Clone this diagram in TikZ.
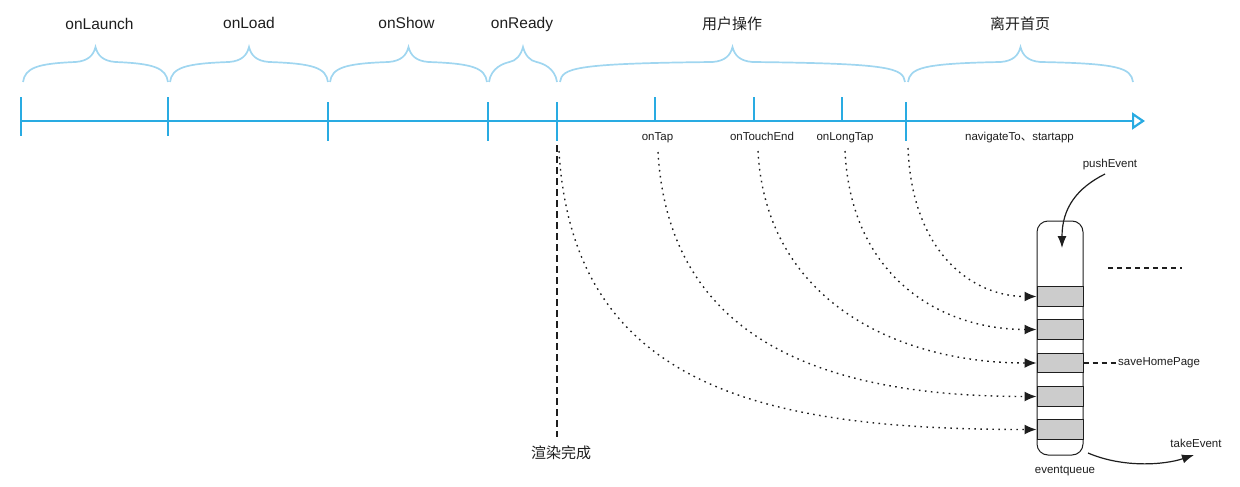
\documentclass[tikz,border=0pt]{standalone}
\usepackage{fontspec}
\setmainfont{Liberation Sans}
\newfontfamily\cjk{Noto Sans CJK SC}
\usetikzlibrary{arrows.meta,calc}
\definecolor{tlblue}{RGB}{41,171,226}
\definecolor{brblue}{RGB}{160,214,240}
\definecolor{ink}{RGB}{30,30,30}
\definecolor{slotgray}{RGB}{204,204,204}
\newcommand{\mybrace}[3]{%
  \pgfmathsetmacro\bm{(#1+#2)/2}%
  \pgfmathsetmacro\bo{min(20,0.2*(#2-#1))}%
  \draw[br] (#1,82) .. controls (#1+2,68) and (#1+14,63.5) .. (\bm-\bo,62)
    .. controls (\bm-7,61) and (\bm-2,55) .. (\bm,#3)
    .. controls (\bm+2,55) and (\bm+7,61) .. (\bm+\bo,62)
    .. controls (#2-14,63.5) and (#2-2,68) .. (#2,82);
}
\begin{document}
\begin{tikzpicture}[x=1pt,y=-1pt,
  tl/.style={draw=tlblue, line width=2.4pt},
  tickmark/.style={draw=tlblue, line width=2.2pt},
  br/.style={draw=brblue, line width=1.7pt},
  big/.style={font=\fontsize{15.5}{18}\selectfont, text=ink, anchor=base, inner sep=0pt},
  cjklab/.style={font=\fontsize{15}{18}\selectfont\cjk, text=ink, anchor=base, inner sep=0pt},
  small/.style={font=\fontsize{11.5}{14}\selectfont, text=ink, anchor=base, inner sep=0pt},
  flow/.style={draw=ink, line width=1.4pt, dash pattern=on 1.6pt off 4.4pt, -{Latex[length=12pt,width=10pt]}},
  solidarrow/.style={draw=ink, line width=1.2pt, -{Latex[length=12pt,width=9pt]}},
  slot/.style={draw=ink, line width=1pt, fill=slotgray, minimum width=46pt, minimum height=19.5pt, inner sep=0pt},
  sep/.style={draw=ink, line width=1pt},
  dsh/.style={draw=ink, line width=1.2pt, dash pattern=on 5pt off 4pt}
]
\useasboundingbox (0,0) rectangle (1240,487);

% braces
\mybrace{23}{168}{47}
\mybrace{170}{328}{47}
\mybrace{330}{487}{47}
\mybrace{489}{557}{47}
\mybrace{560}{905}{47}
\mybrace{908}{1133}{47}

% labels
\node[big] (lLaunch) at (99.5,30) {onLaunch};
\node[big] (lLoad) at (249,28.5) {onLoad};
\node[big] (lShow) at (406.5,28.5) {onShow};
\node[big] (lReady) at (522,28.5) {onReady};
\node[cjklab] (lUser) at (732,30) {用户操作};
\node[cjklab] (lLeave) at (1020,30) {离开首页};

% timeline
\coordinate (tstart) at (21,121);
\coordinate (tend) at (1145,121);
\draw[tl, -{Triangle[open,length=13pt,width=17pt,line width=2.2pt]}] (tstart) -- (tend);
\draw[tickmark] (21,97) -- (21,136);
\draw[tickmark] (168,97) -- (168,136);
\draw[tickmark] (328,102) -- (328,141);
\draw[tickmark] (488,102) -- (488,141);
\draw[tickmark] (557,102) -- (557,141);
\draw[tickmark] (655,97) -- (655,121);
\draw[tickmark] (754,97) -- (754,121);
\draw[tickmark] (842,97) -- (842,121);
\draw[tickmark] (906,102) -- (906,141);

% small labels
\node[small] (lTap) at (657.5,140) {onTap};
\node[small] (lTouch) at (762,140) {onTouchEnd};
\node[small] (lLong) at (845,140) {onLongTap};
\node[small] (lNav) at (1019.5,140) {navigateTo{\cjk 、}startapp};

% render done
\coordinate (rtop) at (557,145);
\node[cjklab] (lRender) at (561,458) {渲染完成};
\draw[dsh, dash pattern=on 7pt off 4pt] (rtop) -- (557,437);

% event queue
\node[draw=ink, line width=1pt, rounded corners=11pt, minimum width=46pt, minimum height=234pt, inner sep=0pt] (queue) at (1060,338) {};
\node[slot] (s1) at (1060,296.5) {};
\node[slot] (s2) at (1060,329.5) {};
\node[slot] (s3) at (1060,363) {};
\node[slot] (s4) at (1060,396.5) {};
\node[slot] (s5) at (1060,429.5) {};
\draw[sep] (s5.south west) -- (s5.south east);

% flow curves
\coordinate (cR) at (559,151);
\coordinate (cTap) at (658,152);
\coordinate (cTouch) at (758,151);
\coordinate (cLong) at (845,151);
\coordinate (cNav) at (908,148);
\draw[flow] (cR) .. controls +(14,237) and +(-272,0) .. (s5.west);
\draw[flow] (cTap) .. controls +(11,191) and +(-208,0) .. (s4.west);
\draw[flow] (cTouch) .. controls +(8,150) and +(-139,0) .. (s3.west);
\draw[flow] (cLong) .. controls +(6,126) and +(-96,0) .. (s2.west);
\draw[flow] (cNav) .. controls +(4,105) and +(-64,0) .. (s1.west);

% push / take
\node[small] (lPush) at (1110,167) {pushEvent};
\draw[solidarrow] (1105,174) .. controls +(-28,14) and +(0,-40) .. (1062,248);
\node[small] (lTake) at (1196,447) {takeEvent};
\draw[solidarrow] (1088,453) .. controls +(35,15) and +(-30,10) .. (1194,455);
\node[small] (lQueue) at (1065,473) {eventqueue};

% dashed marks
\draw[dsh] (1108,268) -- (1182,268);
\node[small, anchor=base west] (lSave) at (1118,365) {saveHomePage};
\draw[dsh] (s3.east) -- (lSave.west |- s3.east);
\end{tikzpicture}
\end{document}
